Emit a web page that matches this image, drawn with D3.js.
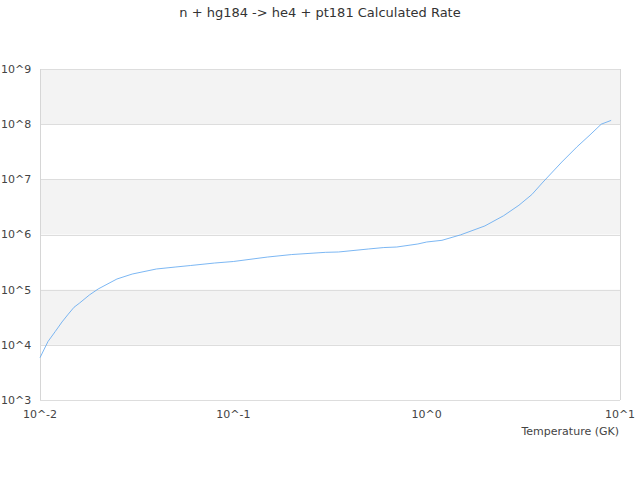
<!DOCTYPE html>
<html>
<head>
<meta charset="utf-8">
<script src="https://cdn.jsdelivr.net/npm/d3@7"></script>
<style>
body { margin: 0; background: #fff; }
text { font-family: "DejaVu Sans", sans-serif; fill: #444; }
</style>
</head>
<body>
<svg class="chart" width="640" height="480"></svg>
<script>
// Chart values

var title = "n + hg184 -> he4 + pt181 Calculated Rate";
var xLabel = "Temperature (GK)";

var temps = [0.01, 0.011, 0.012, 0.013, 0.014, 0.015, 0.016, 0.018, 0.02, 0.025,
	0.03, 0.04, 0.05, 0.06, 0.08, 0.1, 0.15, 0.2, 0.3, 0.35,
	0.5, 0.6, 0.7, 0.9, 1.0, 1.2, 1.5, 2, 2.5, 3,
	3.5, 4, 5, 6, 7, 8, 9];
var rates = [5.85e3, 1.15e4, 1.75e4, 2.6e4, 3.6e4, 4.8e4, 5.7e4, 8.0e4, 1.03e5, 1.56e5,
	1.92e5, 2.37e5, 2.57e5, 2.74e5, 3.04e5, 3.24e5, 3.9e5, 4.33e5, 4.75e5, 4.82e5,
	5.46e5, 5.8e5, 5.93e5, 6.73e5, 7.31e5, 7.85e5, 9.87e5, 1.43e6, 2.19e6, 3.39e6,
	5.3e6, 8.94e6, 2.06e7, 3.9e7, 6.4e7, 1.0e8, 1.17e8];

var xTicks = [0.01, 0.1, 1, 10];
var xTickLabels = ["10^-2", "10^-1", "10^0", "10^1"];
var yTicks = [1e3, 1e4, 1e5, 1e6, 1e7, 1e8, 1e9];
var yTickLabels = ["10^3", "10^4", "10^5", "10^6", "10^7", "10^8", "10^9"];

var margin = {top: 69, bottom: 80, left: 40, right: 20};
var width = 640 - margin.left - margin.right,
	height = 480 - margin.top - margin.bottom;

var chart = d3.select(".chart");

var x = d3.scaleLog().domain([0.01, 10]).range([margin.left, margin.left + width]);
var y = d3.scaleLog().domain([1e3, 1e9]).range([margin.top + height, margin.top]);

// Alternating bands between decades
var bands = d3.range(yTicks.length - 1).filter(function(i) { return i % 2 == 1; });
chart.selectAll(".band")
	.data(bands)
.enter().append("rect")
	.attr("x", margin.left)
	.attr("width", width)
	.attr("y", function(i) { return y(yTicks[i + 1]); })
	.attr("height", function(i) { return y(yTicks[i]) - y(yTicks[i + 1]); })
	.style("fill", "#f3f3f3");

// Horizontal grid lines
chart.selectAll(".grid")
	.data(yTicks)
.enter().append("line")
	.attr("x1", margin.left)
	.attr("x2", margin.left + width)
	.attr("y1", function(d) { return Math.round(y(d)) + 0.5; })
	.attr("y2", function(d) { return Math.round(y(d)) + 0.5; })
	.style("stroke", "#dddddd");

// Frame sides
chart.append("line")
	.attr("x1", margin.left + 0.5).attr("x2", margin.left + 0.5)
	.attr("y1", margin.top).attr("y2", margin.top + height)
	.style("stroke", "#d6d6d6");
chart.append("line")
	.attr("x1", margin.left + width + 0.5).attr("x2", margin.left + width + 0.5)
	.attr("y1", margin.top).attr("y2", margin.top + height)
	.style("stroke", "#d6d6d6");

// Tick labels
chart.selectAll(".ylab")
	.data(yTicks)
.enter().append("text")
	.attr("x", 1)
	.attr("y", function(d) { return y(d); })
	.attr("dy", "0.35em")
	.style("font-size", "11px")
	.text(function(d, i) { return yTickLabels[i]; });

chart.selectAll(".xlab")
	.data(xTicks)
.enter().append("text")
	.attr("x", function(d) { return x(d); })
	.attr("y", margin.top + height + 14)
	.attr("dy", "0.35em")
	.style("text-anchor", "middle")
	.style("font-size", "11px")
	.text(function(d, i) { return xTickLabels[i]; });

chart.append("text")
	.attr("x", margin.left + width - 1)
	.attr("y", margin.top + height + 31)
	.attr("dy", "0.35em")
	.style("text-anchor", "end")
	.style("font-size", "11px")
	.text(xLabel);

chart.append("text")
	.attr("x", 320)
	.attr("y", 12)
	.attr("dy", "0.35em")
	.style("text-anchor", "middle")
	.style("font-size", "13px")
	.style("fill", "#333")
	.text(title);

// The rate curve
var line = d3.line()
	.x(function(d) { return x(d[0]); })
	.y(function(d) { return y(d[1]); });

chart.append("path")
	.datum(d3.zip(temps, rates))
	.attr("d", line)
	.style("fill", "none")
	.style("stroke", "#5aa5f0")
	.style("stroke-width", 0.8);
</script>
</body>
</html>
